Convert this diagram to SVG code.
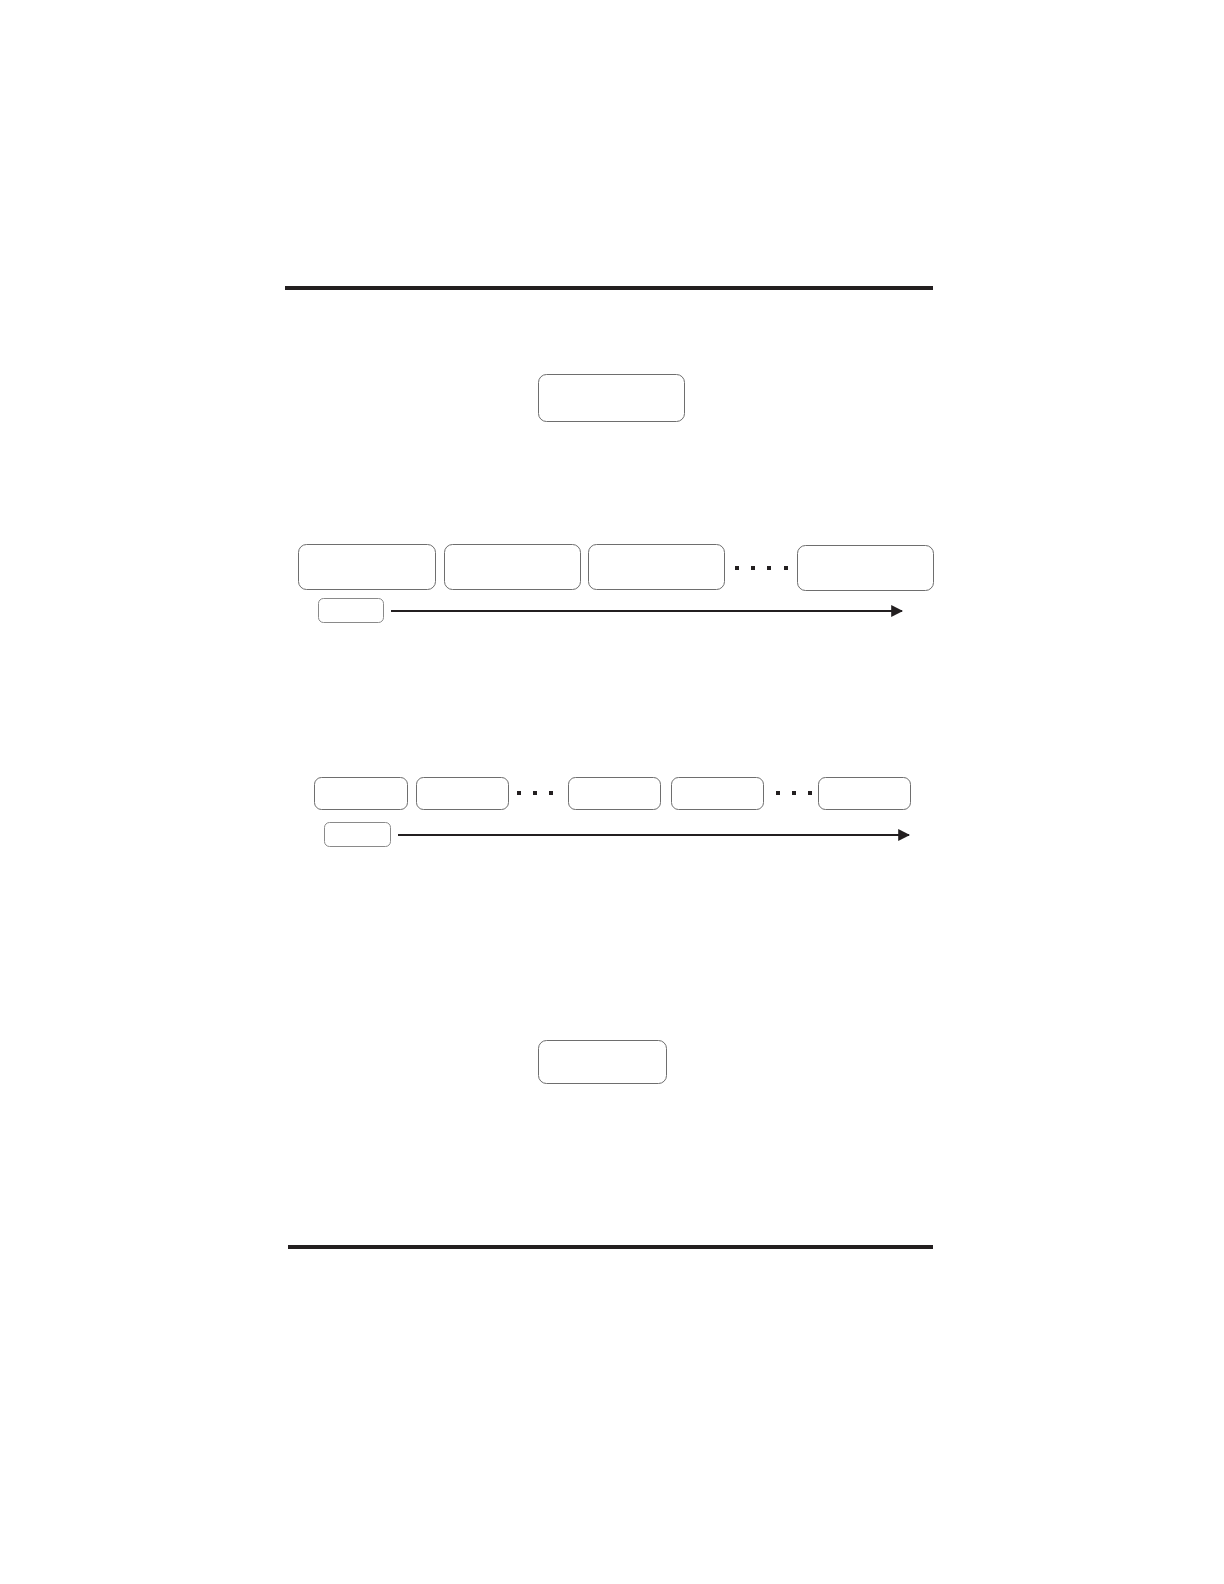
<svg xmlns="http://www.w3.org/2000/svg" width="1224" height="1584" viewBox="0 0 1224 1584">
<defs>
<style>
.box{fill:#fff;stroke:#6e6e6e;stroke-width:1}
.sbox{fill:#fff;stroke:#8a8a8a;stroke-width:1}
.rule{stroke:#231f20;stroke-width:4}
.arrow{stroke:#231f20;stroke-width:2;fill:none}
.dot{fill:#231f20}
</style>
<marker id="ah" viewBox="0 0 10 10" refX="9" refY="5" markerWidth="6" markerHeight="6" orient="auto" markerUnits="strokeWidth">
<path d="M0,0 L10,5 L0,10 z" fill="#231f20"/>
</marker>
</defs>
<rect width="1224" height="1584" fill="#fff"/>
<line class="rule" x1="285" y1="288" x2="933" y2="288"/>
<line class="rule" x1="288" y1="1247" x2="933" y2="1247"/>
<g id="top-box"><rect class="box" x="538.5" y="374.5" width="146" height="47" rx="8"/></g>
<g id="r1-b1"><rect class="box" x="298.5" y="544.5" width="137" height="45" rx="8"/></g>
<g id="r1-b2"><rect class="box" x="444.5" y="544.5" width="136" height="45" rx="8"/></g>
<g id="r1-b3"><rect class="box" x="588.5" y="544.5" width="136" height="45" rx="8"/></g>
<g id="r1-b4"><rect class="box" x="797.5" y="545.5" width="136" height="45" rx="8"/></g>
<g id="r1-dots">
<rect class="dot" x="735" y="566" width="4" height="4"/>
<rect class="dot" x="751" y="566" width="4" height="4"/>
<rect class="dot" x="767" y="566" width="4" height="4"/>
<rect class="dot" x="784" y="566" width="4" height="4"/>
</g>
<g id="r1-small"><rect class="sbox" x="318.5" y="598.5" width="65" height="24" rx="5"/></g>
<g id="r2-b1"><rect class="box" x="314.5" y="777.5" width="93" height="32" rx="7"/></g>
<g id="r2-b2"><rect class="box" x="416.5" y="777.5" width="92" height="32" rx="7"/></g>
<g id="r2-b3"><rect class="box" x="568.5" y="777.5" width="92" height="32" rx="7"/></g>
<g id="r2-b4"><rect class="box" x="671.5" y="777.5" width="92" height="32" rx="7"/></g>
<g id="r2-b5"><rect class="box" x="818.5" y="777.5" width="92" height="32" rx="7"/></g>
<g id="r2-dots">
<rect class="dot" x="517" y="791" width="4" height="4"/>
<rect class="dot" x="533" y="791" width="4" height="4"/>
<rect class="dot" x="549" y="791" width="4" height="4"/>
<rect class="dot" x="776" y="791" width="4" height="4"/>
<rect class="dot" x="792" y="791" width="4" height="4"/>
<rect class="dot" x="808" y="791" width="4" height="4"/>
</g>
<g id="r2-small"><rect class="sbox" x="324.5" y="822.5" width="66" height="24" rx="5"/></g>
<g id="bottom-box"><rect class="box" x="538.5" y="1040.5" width="128" height="43" rx="8"/></g>
<g id="connectors">
<line class="arrow" x1="391" y1="611" x2="902" y2="611" marker-end="url(#ah)"/>
<line class="arrow" x1="398" y1="835" x2="909" y2="835" marker-end="url(#ah)"/>
</g>
</svg>
